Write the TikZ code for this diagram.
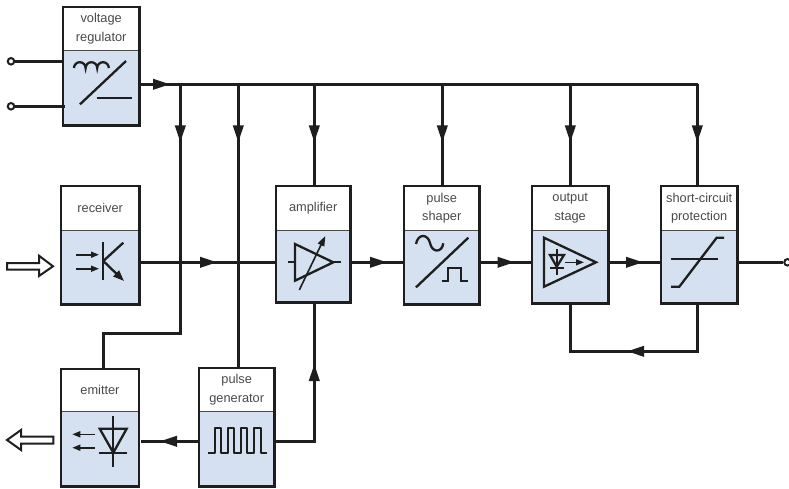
\documentclass[tikz,border=0pt]{standalone}
\usepackage{fontspec}
\setmainfont{Liberation Sans}
\usetikzlibrary{arrows.meta,decorations.markings}
\definecolor{panelblue}{HTML}{D5E1F1}
\definecolor{inkc}{HTML}{1E1E1E}
\definecolor{labelc}{HTML}{4A4A4A}
\tikzset{
  x=1pt,y=-1pt,
  wire/.style={draw=inkc,line width=2.4pt},
  icon/.style={draw=inkc,line width=2.3pt},
  thinicon/.style={draw=inkc,line width=1.6pt},
  boxline/.style={draw=inkc,line width=2.6pt},
  divider/.style={draw=labelc,line width=0.9pt},
  flowmark/.style={postaction={decorate,decoration={markings,
     mark=at position #1 with {\arrow{Triangle[length=17pt,width=10.5pt]}}}}},
  headcell/.style={anchor=north west,inner sep=0pt,fill=white,align=center,
     font=\fontsize{12.8}{18.5}\selectfont,text=labelc},
  bodycell/.style={anchor=north west,inner sep=0pt,fill=panelblue},
  terminal/.style={circle,draw=inkc,line width=2pt,fill=white,inner sep=0pt,minimum size=6.5pt},
  hollow/.style={draw=inkc,line width=2pt,fill=white,line join=miter},
  smallhead/.style={-{Triangle[length=8pt,width=6pt]}},
}
% name, x1, y1, x2, ydiv, y2, label
\newcommand{\blockbox}[7]{%
  \pgfmathsetmacro{\bw}{#4-#2}\pgfmathsetmacro{\hh}{#5-#3}\pgfmathsetmacro{\bh}{#6-#5}%
  \node[headcell,minimum width=\bw pt,minimum height=\hh pt] (#1h) at (#2,#3) {#7};
  \node[bodycell,minimum width=\bw pt,minimum height=\bh pt] (#1) at (#2,#5) {};
  \draw[divider] (#1.north west) -- (#1.north east);
  \draw[boxline] (#1h.north west) rectangle (#1.south east);
}
\begin{document}
\begin{tikzpicture}
\useasboundingbox (0,0) rectangle (789,488);

\blockbox{vr}{63}{7}{139}{50}{125}{voltage\\regulator}
\blockbox{rx}{61}{186}{139}{230}{304}{receiver}
\blockbox{em}{61}{369}{138.5}{411}{486}{emitter}
\blockbox{pg}{199}{368}{274}{411}{486}{pulse\\generator}
\blockbox{am}{276}{186}{350}{230}{302}{amplifier}
\blockbox{ps}{404}{186}{479}{230}{304}{pulse\\shaper}
\blockbox{os}{532}{186}{608}{230}{303}{output\\stage}
\blockbox{sc}{661}{186}{737}{230}{303}{short-circuit\\protection}

% named points
\coordinate (busstart) at (141,84.3);
\coordinate (busend) at (698.4,84.3);
\coordinate (sigstart) at (141,262.3);
\coordinate (tap1) at (180.3,84.3);
\coordinate (tap2) at (238.3,84.3);
\coordinate (tap3) at (314.3,84.3);
\coordinate (tap4) at (442.3,84.3);
\coordinate (tap5) at (570.3,84.3);
\coordinate (tap6) at (697.3,84.3);
\coordinate (corner1) at (180.3,333.3);
\coordinate (corner2) at (103.3,333.3);
\coordinate (pgout) at (275.5,441.3);
\coordinate (pgcorner) at (314.3,441.3);
\coordinate (fbr) at (697.3,351.3);
\coordinate (fbl) at (570.3,351.3);
\node[terminal] (t1) at (11,61.3) {};
\node[terminal] (t2) at (11,106.3) {};
\node[terminal] (t3) at (787.5,262.3) {};

% connectors
\draw[wire] (t1) -- (vr.west |- t1);
\draw[wire] (t2) -- (65,106.3);
\draw[wire,flowmark=29pt] (busstart) -- (busend);
\draw[wire,flowmark=58pt] (tap1) -- (corner1) -- (corner2) -- (corner2 |- emh.north);
\draw[wire,flowmark=58pt] (tap2) -- (tap2 |- pgh.north);
\draw[wire,flowmark=58pt] (tap3) -- (tap3 |- amh.north);
\draw[wire,flowmark=58pt] (tap4) -- (tap4 |- psh.north);
\draw[wire,flowmark=58pt] (tap5) -- (tap5 |- osh.north);
\draw[wire,flowmark=58pt] (tap6) -- (tap6 |- sch.north);
\draw[wire,flowmark=76pt] (sigstart) -- (sigstart -| am.west);
\draw[wire,flowmark=35pt] (352,262.3) -- (sigstart -| ps.west);
\draw[wire,flowmark=34pt] (480.5,262.3) -- (sigstart -| os.west);
\draw[wire,flowmark=34pt] (609,262.3) -- (sigstart -| sc.west);
\draw[wire] (738.5,262.3) -- (t3);
\draw[wire,flowmark=39pt] (pg.west |- pgout) -- (141,441.3);
\draw[wire,flowmark=116pt] (pgout) -- (pgcorner) -- (am.south -| pgcorner);
\draw[wire,flowmark=118pt] (sc.south -| fbr) -- (fbr) -- (fbl) -- (os.south -| fbl);

% hollow signal arrows
\draw[hollow] (7,263) -- (39,263) -- (39,255.7) -- (53,266.3) -- (39,276) -- (39,269.7) -- (7,269.7) -- cycle;
\draw[hollow] (53.3,436.7) -- (21,436.7) -- (21,430) -- (7,440) -- (21,450) -- (21,443.7) -- (53.3,443.7) -- cycle;

% regulator icon
\draw[icon] (74,68) arc[start angle=180,end angle=360,radius=5.8] arc[start angle=180,end angle=360,radius=5.8] arc[start angle=180,end angle=360,radius=5.8];
\draw[icon] (80,104.3) -- (126,61);
\draw[icon] (96.7,98.3) -- (131.7,98.3);

% receiver icon
\draw[thinicon,smallhead] (76,254.7) -- (99,254.7);
\draw[thinicon,smallhead] (76,268.7) -- (99,268.7);
\draw[icon] (103.3,242) -- (103.3,280);
\draw[icon] (103.3,261) -- (123.3,242.7);
\draw[icon,-{Triangle[length=11pt,width=8pt]}] (103.3,261) -- (124,281);

% emitter icon
\draw[icon] (113.3,416) -- (113.3,466.7);
\draw[icon,line join=miter] (99.7,428.7) -- (126.7,428.7) -- (113.3,452.7) -- cycle;
\draw[icon] (99,452.7) -- (127,452.7);
\draw[thinicon,smallhead] (95,434.3) -- (72.3,434.3);
\draw[thinicon,smallhead] (95,447.7) -- (72.3,447.7);

% pulse generator icon
\draw[icon,line join=round] (208.3,453.3) -- (215.3,453.3) -- (215.3,428.3) -- (221.3,428.3) -- (221.3,453.3)
  -- (228.3,453.3) -- (228.3,428.3) -- (234.3,428.3) -- (234.3,453.3)
  -- (241.3,453.3) -- (241.3,428.3) -- (247.3,428.3) -- (247.3,453.3)
  -- (254.3,453.3) -- (254.3,428.3) -- (261.3,428.3) -- (261.3,453.3) -- (267.3,453.3);

% amplifier icon
\draw[icon,line join=miter] (295,244) -- (333.3,262.3) -- (295,280.7) -- cycle;
\draw[icon] (288.3,262.3) -- (295,262.3);
\draw[icon] (333.3,262.3) -- (341,262.3);
\draw[thinicon,-{Triangle[length=10pt,width=7pt]}] (299.3,290) -- (325.3,236);

% shaper icon
\draw[icon] (416,287.3) -- (468.3,237.7);
\draw[icon] (416,244) .. controls (418,233) and (428,234) .. (430,243) .. controls (432,253) and (442,253) .. (443.3,243.3);
\draw[icon,line join=miter] (441.7,280.7) -- (448.3,280.7) -- (448.3,268.3) -- (460.7,268.3) -- (460.7,280.7) -- (468.3,280.7);

% output stage icon
\draw[icon,line join=miter] (544,237.7) -- (596,262.3) -- (544,286.7) -- cycle;
\draw[icon] (556.7,249.3) -- (556.7,275);
\draw[icon,line join=miter] (550,255) -- (564,255) -- (556.7,266.7) -- cycle;
\draw[icon] (550,267.7) -- (564,267.7);
\draw[thinicon,smallhead] (565,262.3) -- (584,262.3);

% short-circuit protection icon
\draw[icon] (671,259) -- (717.7,259);
\draw[icon] (671,286.7) -- (679.3,286.7) -- (716.7,237.7) -- (724,237.7);
\end{tikzpicture}
\end{document}
